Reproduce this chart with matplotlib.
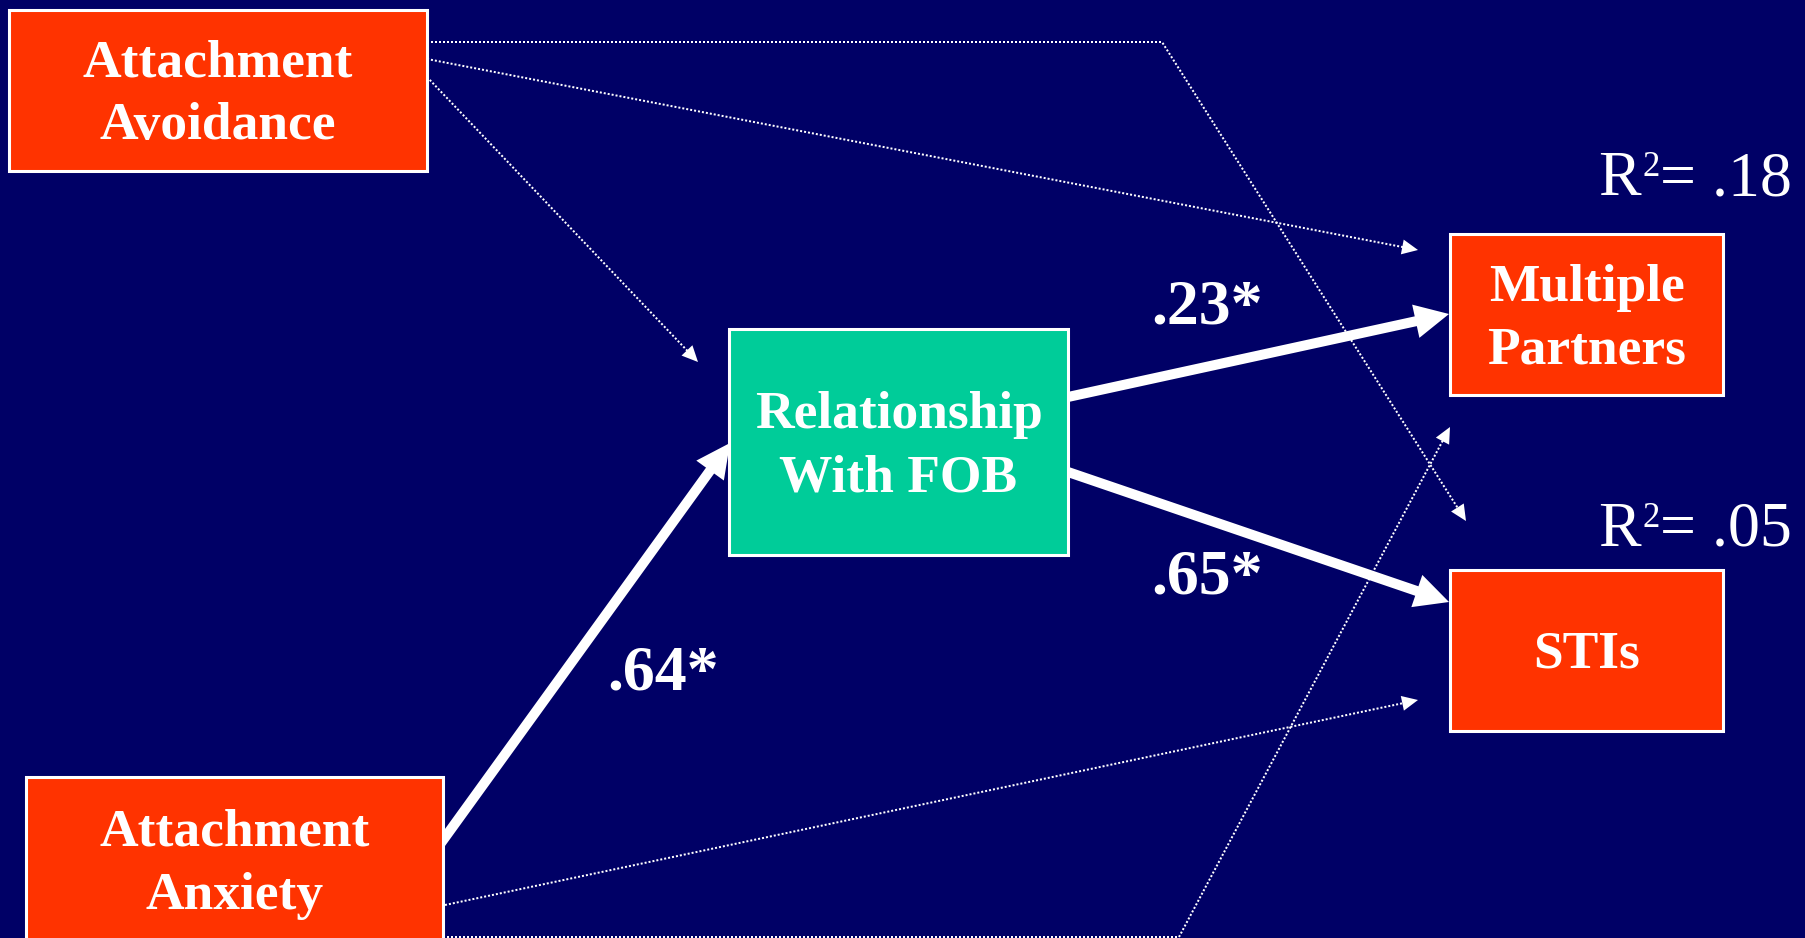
#!/usr/bin/env python3
"""
Path diagram: attachment style -> relationship with FOB -> sexual risk outcomes.
Salida: out.png (1805x938)
"""

import matplotlib

matplotlib.use("Agg")

import numpy as np
import matplotlib.pyplot as plt
from matplotlib.patches import Polygon, Rectangle

W, H = 1805, 938
DPI = 100

C_BG = "#000066"
C_ORANGE = "#ff3300"
C_GREEN = "#00cc99"
C_WHITE = "#ffffff"
SERIF = ["Liberation Serif", "DejaVu Serif"]

# --- data -------------------------------------------------------------
node_names = ["avoid", "anx", "fob", "multi", "sti"]
node_labels = ["Attachment\nAvoidance", "Attachment\nAnxiety",
               "Relationship\nWith FOB", "Multiple\nPartners", "STIs"]

# significant paths (thick arrows) and their coefficients
sig_from = ["anx", "fob", "fob"]
sig_to = ["fob", "multi", "sti"]
sig_coef = [".64*", ".23*", ".65*"]

# non-significant paths (dotted arrows)
ns_from = ["avoid", "avoid", "avoid", "anx", "anx"]
ns_to = ["fob", "multi", "sti", "multi", "sti"]

# explained variance for the outcomes
r2_nodes = ["multi", "sti"]
r2_values = [".18", ".05"]

# --- layout (pixels, y down) -------------------------------------------
BOX = {  # x0, y0, x1, y1
    "avoid": (9, 10, 427, 171),
    "anx": (26, 777, 443, 943),
    "fob": (729, 329, 1068, 555),
    "multi": (1450, 234, 1723, 395),
    "sti": (1450, 570, 1723, 731),
}
FILL = {"avoid": C_ORANGE, "anx": C_ORANGE, "fob": C_GREEN,
        "multi": C_ORANGE, "sti": C_ORANGE}

SIG_PTS = {
    ("anx", "fob"): [(441, 843), (730, 443)],
    ("fob", "multi"): [(1068, 397), (1449, 314)],
    ("fob", "sti"): [(1068, 472), (1449, 602)],
}
SIG_LABEL_XY = {
    ("anx", "fob"): (607, 690),
    ("fob", "multi"): (1151, 323),
    ("fob", "sti"): (1151, 594),
}
NS_PTS = {
    ("avoid", "fob"): [(427, 77), (698, 362)],
    ("avoid", "multi"): [(427, 59), (1418, 250)],
    ("avoid", "sti"): [(427, 42), (1162, 42), (1466, 521)],
    ("anx", "multi"): [(443, 937), (1179, 937), (1450, 427)],
    ("anx", "sti"): [(445, 905), (1418, 700)],
}
R2_XY = {"multi": (1598, 195), "sti": (1598, 546)}


def arrow(ax, pts, lw_px, head_len, head_half, dotted=False):
    """Polyline with a filled triangular head at the last point."""
    pts = np.array(pts, dtype=float)
    tip, prev = pts[-1], pts[-2]
    u = (tip - prev) / np.hypot(*(tip - prev))
    n = np.array([-u[1], u[0]])
    base = tip - u * head_len
    line = np.vstack([pts[:-1], base + u * 1.5])
    ax.plot(line[:, 0], line[:, 1], color=C_WHITE, lw=lw_px * 72 / DPI,
            linestyle=(0, (1, 1)) if dotted else "-",
            solid_capstyle="butt", dash_capstyle="butt", zorder=2)
    head = Polygon([tip, base + n * head_half, base - n * head_half],
                   closed=True, facecolor=C_WHITE, edgecolor="none", zorder=2)
    ax.add_patch(head)


def box(ax, key, label):
    x0, y0, x1, y1 = BOX[key]
    ax.add_patch(Rectangle((x0, y0), x1 - x0, y1 - y0, facecolor=FILL[key],
                           edgecolor=C_WHITE, lw=2.2, zorder=3))
    lines = label.split("\n")
    cap, step = 35, 63
    cx, cy = (x0 + x1) / 2, (y0 + y1) / 2
    first = cy - (cap + step * (len(lines) - 1)) / 2 + cap
    for i, ln in enumerate(lines):
        ax.text(cx, first + i * step, ln, ha="center", va="baseline",
                fontsize=38.5, fontweight="bold", color=C_WHITE,
                family=SERIF, zorder=4)


def r_squared(ax, x, y, val):
    """'R' + raised '2' + '= .xx', drawn piecewise like the slide."""
    kw = dict(ha="left", va="baseline", color=C_WHITE, family=SERIF, zorder=4)
    ax.text(x, y, "R", fontsize=46, **kw)
    ax.text(x + 44, y - 19, "2", fontsize=25, **kw)
    ax.text(x + 62, y, f"= {val}", fontsize=46, **kw)


def main():
    fig = plt.figure(figsize=(W / DPI, H / DPI), dpi=DPI)
    fig.patch.set_facecolor(C_BG)
    ax = fig.add_axes([0, 0, 1, 1])
    ax.set_facecolor(C_BG)
    ax.set_xlim(0, W)
    ax.set_ylim(H, 0)
    ax.axis("off")

    # dotted (non-significant) paths
    for a, b in zip(ns_from, ns_to):
        arrow(ax, NS_PTS[(a, b)], 2, 16, 7.5, dotted=True)

    # thick (significant) paths + coefficients
    for a, b, c in zip(sig_from, sig_to, sig_coef):
        arrow(ax, SIG_PTS[(a, b)], 10, 34, 17)
        lx, ly = SIG_LABEL_XY[(a, b)]
        ax.text(lx, ly, c, ha="left", va="baseline", fontsize=46,
                fontweight="bold", color=C_WHITE, family=SERIF, zorder=4)

    for key, label in zip(node_names, node_labels):
        box(ax, key, label)

    for key, val in zip(r2_nodes, r2_values):
        r_squared(ax, *R2_XY[key], val)

    fig.savefig("out.png", dpi=DPI, facecolor=fig.get_facecolor())
    plt.close(fig)


if __name__ == "__main__":
    main()
